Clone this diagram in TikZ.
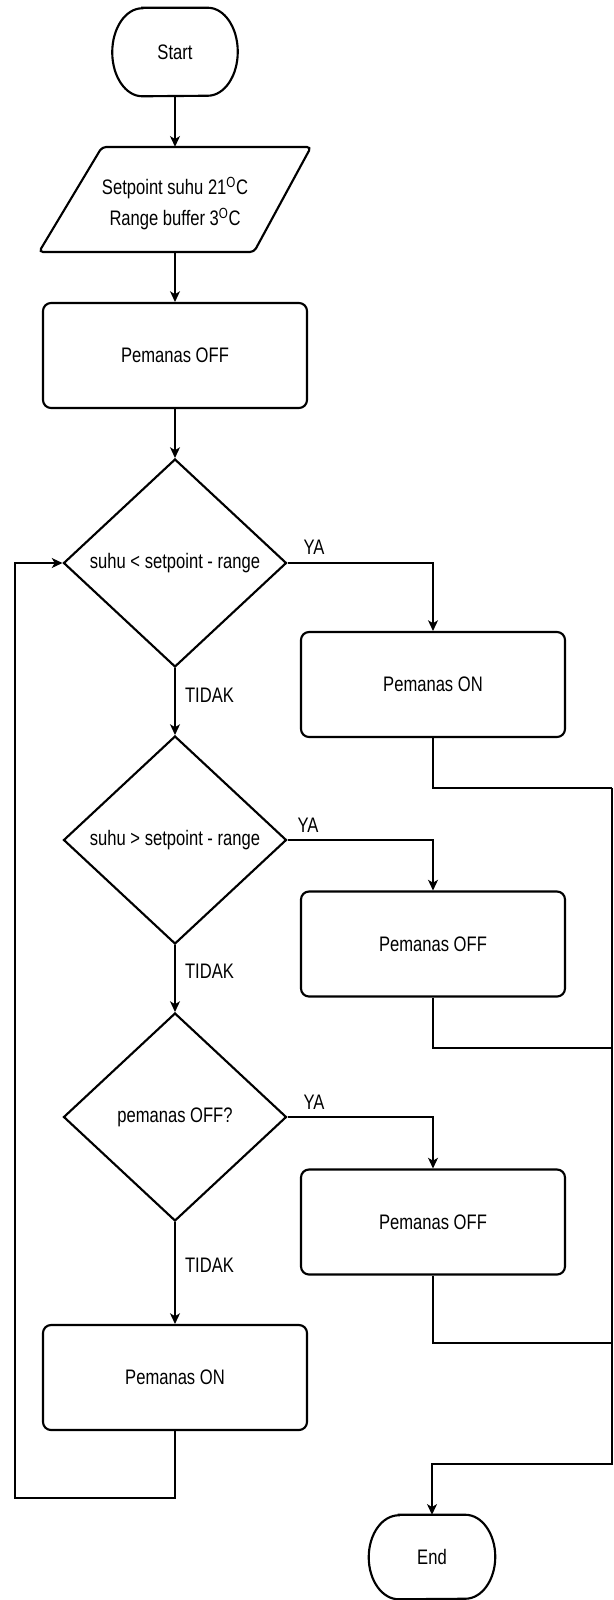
\documentclass[tikz,border=0pt]{standalone}
\usepackage{fontspec}
\setmainfont{Liberation Sans}
\usepackage{graphicx}
\usetikzlibrary{arrows.meta,shapes.geometric}
\newcommand{\sqz}[1]{\scalebox{0.79}[1]{#1}}
\begin{document}
\begin{tikzpicture}[x=0.75pt,y=-0.75pt,
  every node/.style={font=\fontsize{15.75}{23.25}\selectfont, inner sep=0pt},
  border/.style={draw=black, line width=1.6pt},
  procbox/.style={border, rounded corners=6pt, minimum width=198pt, minimum height=78.75pt},
  decision/.style={border, diamond, minimum width=167.25pt, minimum height=156pt},
  conn/.style={draw=black, line width=0.9pt},
  arr/.style={conn, -{Stealth[length=8pt,width=7.5pt,inset=2.2pt]}}]
\useasboundingbox (0,0) rectangle (614,1600);
\fill[white] (0,0) rectangle (614,1600);

% Start terminator
\node[minimum width=93.75pt, minimum height=66pt] (start) at (175,52) {\sqz{Start}};
\draw[border] ([xshift=22.5pt]start.north west) -- ([xshift=-22.5pt]start.north east)
  arc[start angle=90,end angle=-90,x radius=22.5pt,y radius=33pt]
  -- ([xshift=22.5pt]start.south west)
  arc[start angle=270,end angle=90,x radius=22.5pt,y radius=33pt] -- cycle;

% Input parallelogram
\node[minimum width=204pt, minimum height=78.75pt] (input) at (175,199.5) {};
\draw[border, rounded corners=3pt] (102,147) -- (311,147) -- (254,252) -- (39,252) -- cycle;
\node[align=center] (inputtext) at (175,204)
  {\sqz{Setpoint suhu 21\textsuperscript{O}C}\\\sqz{Range buffer 3\textsuperscript{O}C}};

\node[procbox] (box1) at (175,355.5) {\sqz{Pemanas OFF}};
\node[decision] (d1) at (175,563) {\sqz{suhu < setpoint - range}};
\node[procbox] (r1) at (433,684.5) {\sqz{Pemanas ON}};
\node[decision] (d2) at (175,840) {\sqz{suhu > setpoint - range}};
\node[procbox] (r2) at (433,944) {\sqz{Pemanas OFF}};
\node[decision] (d3) at (175,1117) {\sqz{pemanas OFF?}};
\node[procbox] (r3) at (433,1222) {\sqz{Pemanas OFF}};
\node[procbox] (box2) at (175,1377.5) {\sqz{Pemanas ON}};

% End terminator
\node[minimum width=94.5pt, minimum height=63pt] (end) at (432,1557) {\sqz{End}};
\draw[border] ([xshift=22.5pt]end.north west) -- ([xshift=-22.5pt]end.north east)
  arc[start angle=90,end angle=-90,x radius=22.5pt,y radius=31.5pt]
  -- ([xshift=22.5pt]end.south west)
  arc[start angle=270,end angle=90,x radius=22.5pt,y radius=31.5pt] -- cycle;

% labels
\node (ya1) at (314,547) {\sqz{YA}};
\node (ya2) at (308,825) {\sqz{YA}};
\node (ya3) at (314,1102) {\sqz{YA}};
\node (td1) at (209.5,695) {\sqz{TIDAK}};
\node (td2) at (209.5,971) {\sqz{TIDAK}};
\node (td3) at (209.5,1265) {\sqz{TIDAK}};

% coordinates
\coordinate (loopb) at (15,1498);
\coordinate (rj1) at (612,788);
\coordinate (rj2) at (612,1048);
\coordinate (rj3) at (612,1343);
\coordinate (rbot) at (612,1464);

% connectors
\draw[arr] (start.south) -- (input.north);
\draw[arr] (input.south) -- (box1.north);
\draw[arr] (box1.south) -- (d1.north);
\draw[arr] (d1.east) -| (r1.north);
\draw[arr] (d1.south) -- (d2.north);
\draw[arr] (d2.east) -| (r2.north);
\draw[arr] (d2.south) -- (d3.north);
\draw[arr] (d3.east) -| (r3.north);
\draw[arr] (d3.south) -- (box2.north);
\draw[arr] (box2.south) |- (loopb) |- (d1.west);
\draw[conn] (r1.south) |- (rj1);
\draw[conn] (r2.south) |- (rj2);
\draw[conn] (r3.south) |- (rj3);
\draw[arr] (rj1) -- (rbot) -| (end.north);
\end{tikzpicture}
\end{document}
